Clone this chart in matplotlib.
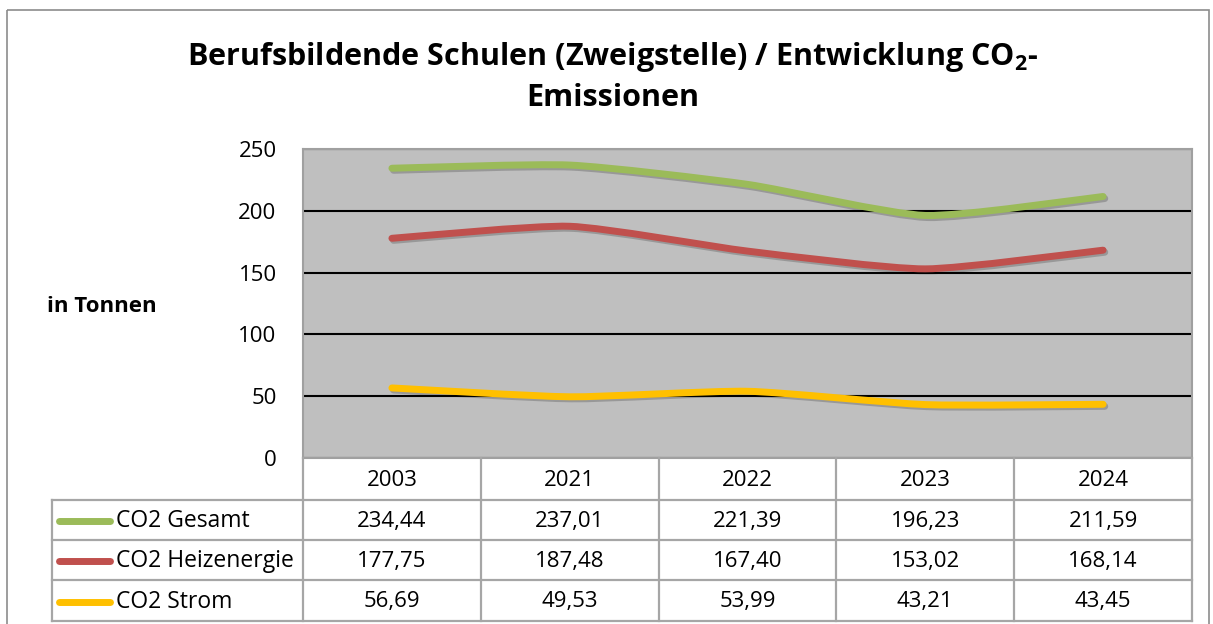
import matplotlib
matplotlib.use("Agg")
import matplotlib.pyplot as plt
from matplotlib.path import Path
from matplotlib.patches import PathPatch, Rectangle
import matplotlib.patheffects as pe

plt.rcParams['font.family'] = ['Open Sans', 'DejaVu Sans']
plt.rcParams['mathtext.default'] = 'regular'

# data
years = ['2003', '2021', '2022', '2023', '2024']
series_names = ['CO2 Gesamt', 'CO2 Heizenergie', 'CO2 Strom']
gesamt = [234.44, 237.01, 221.39, 196.23, 211.59]
heizenergie = [177.75, 187.48, 167.40, 153.02, 168.14]
strom = [56.69, 49.53, 53.99, 43.21, 43.45]
series_values = [gesamt, heizenergie, strom]
colors = ['#9BBB59', '#C0504D', '#FFC000']

W, H = 1213, 624
fig = plt.figure(figsize=(W / 100, H / 100), dpi=100)

# plot area in pixels
left, right, top, bottom = 303, 1192, 149, 458
ax = fig.add_axes([left / W, 1 - bottom / H, (right - left) / W, (bottom - top) / H])
ax.set_facecolor('#BFBFBF')
ax.set_xlim(-0.5, len(years) - 0.5)
ax.set_ylim(0, 250)
ax.set_yticks(range(0, 251, 50))
ax.set_xticks([])
ax.tick_params(axis='y', length=0, pad=19, labelsize=16)
ax.yaxis.grid(True, color='black', lw=1.5)
ax.set_axisbelow(True)
for s in ax.spines.values():
    s.set_color('#A0A0A0')
    s.set_linewidth(1.5)


def smooth_path(xs, ys, k=10):
    # gently smoothed line through the data points, like excel
    pts = list(zip(xs, ys))
    verts = [pts[0]]
    codes = [Path.MOVETO]
    n = len(pts)
    for i in range(n - 1):
        p0 = pts[max(i - 1, 0)]
        p1 = pts[i]
        p2 = pts[i + 1]
        p3 = pts[min(i + 2, n - 1)]
        c1 = (p1[0] + (p2[0] - p0[0]) / k, p1[1] + (p2[1] - p0[1]) / k)
        c2 = (p2[0] - (p3[0] - p1[0]) / k, p2[1] - (p3[1] - p1[1]) / k)
        verts += [c1, c2, p2]
        codes += [Path.CURVE4] * 3
    return Path(verts, codes)


xs = list(range(len(years)))
for vals, c in zip(series_values, colors):
    patch = PathPatch(smooth_path(xs, vals), fill=False, edgecolor=c, lw=5,
                      capstyle='round', joinstyle='round', zorder=3)
    patch.set_path_effects([pe.SimpleLineShadow(offset=(1.2, -1.5), alpha=0.2),
                            pe.Normal()])
    ax.add_patch(patch)

# overlay in pixel coordinates for table, title and frame
ov = fig.add_axes([0, 0, 1, 1])
ov.set_xlim(0, W)
ov.set_ylim(H, 0)
ov.axis('off')
ov.patch.set_alpha(0)

ov.add_patch(Rectangle((7, 10), 1202, 620, fill=False, ec='#8C8C8C', lw=1.2))

ov.text(613, 57, r'Berufsbildende Schulen (Zweigstelle) / Entwicklung CO$_2$-',
        ha='center', va='center', fontsize=22, fontweight='bold')
ov.text(613, 98, 'Emissionen', ha='center', va='center', fontsize=22, fontweight='bold')
ov.text(102, 306, 'in Tonnen', ha='center', va='center', fontsize=16, fontweight='bold')

# data table
col_w = (right - left) / len(years)
row_y = [bottom, 500, 540, 580, 621]
grid_c = '#A6A6A6'
lw = 1.6
tab_left = 52
for y in row_y[1:]:
    ov.plot([tab_left, right], [y, y], color=grid_c, lw=lw)
for i in range(len(years) + 1):
    ov.plot([left + i * col_w] * 2, [bottom, row_y[-1]], color=grid_c, lw=lw)
ov.plot([tab_left, tab_left], [row_y[1], row_y[-1]], color=grid_c, lw=lw)

for i, yr in enumerate(years):
    ov.text(left + (i + 0.5) * col_w, (row_y[0] + row_y[1]) / 2 + 1, yr,
            ha='center', va='center', fontsize=16)

for r, (name, vals, c) in enumerate(zip(series_names, series_values, colors)):
    yc = (row_y[r + 1] + row_y[r + 2]) / 2 + 1
    ov.plot([59, 110], [yc, yc], color=c, lw=5, solid_capstyle='round')
    ov.text(116, yc, name, ha='left', va='center', fontsize=16.5)
    for i, v in enumerate(vals):
        ov.text(left + (i + 0.5) * col_w, yc, f'{v:.2f}'.replace('.', ','),
                ha='center', va='center', fontsize=16)

fig.savefig('out.png', dpi=100)
